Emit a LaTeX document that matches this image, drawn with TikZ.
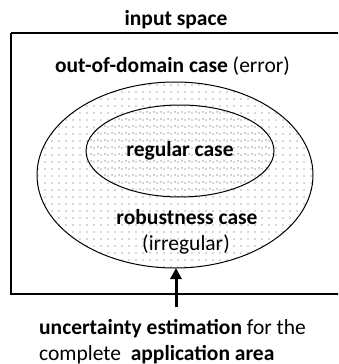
\documentclass[tikz,border=0pt]{standalone}
\usepackage{fontspec}
\setmainfont{Carlito}
\usetikzlibrary{patterns.meta,arrows.meta}
\tikzset{
  lbl/.style={inner sep=0pt, anchor=base, font=\fontsize{21.5}{26}\selectfont},
  region/.style={draw=black, line width=1pt, pattern={Dots[distance=6.5pt, radius=0.75pt]}, pattern color=black!70},
}
\begin{document}
\begin{tikzpicture}[x=1pt,y=-1pt]
\useasboundingbox (0,0) rectangle (338,364);
\clip (0,0) rectangle (338,364);
\node[lbl] (title) at (176,25) {\textbf{input space}};
\draw[line width=1.4pt] (11,33) -- (345,33) (11,33) -- (11,294) -- (345,294);
\node[lbl] (ood) at (172.5,72) {\textbf{out-of-domain case} (error)};
\draw[region] (175,175) ellipse [x radius=138, y radius=93];
\draw[region] (180,151) ellipse [x radius=94, y radius=46];
\coordinate (outbot) at (176,268);
\node[lbl] (reg) at (180,156) {\textbf{regular case}};
\node[lbl] (rob) at (187,224) {\textbf{robustness case}};
\node[lbl] (irr) at (186,250) {(irregular)};
\node[lbl, anchor=base west] (ue1) at (39,334) {\textbf{uncertainty estimation} for the};
\node[lbl, anchor=base west] (ue2) at (39,360) {complete\ \ \textbf{application area}};
\coordinate (arrbase) at (176,307);
\draw[line width=3pt, -{Triangle[length=11pt,width=11pt]}] (arrbase) -- (outbot);
\end{tikzpicture}
\end{document}
